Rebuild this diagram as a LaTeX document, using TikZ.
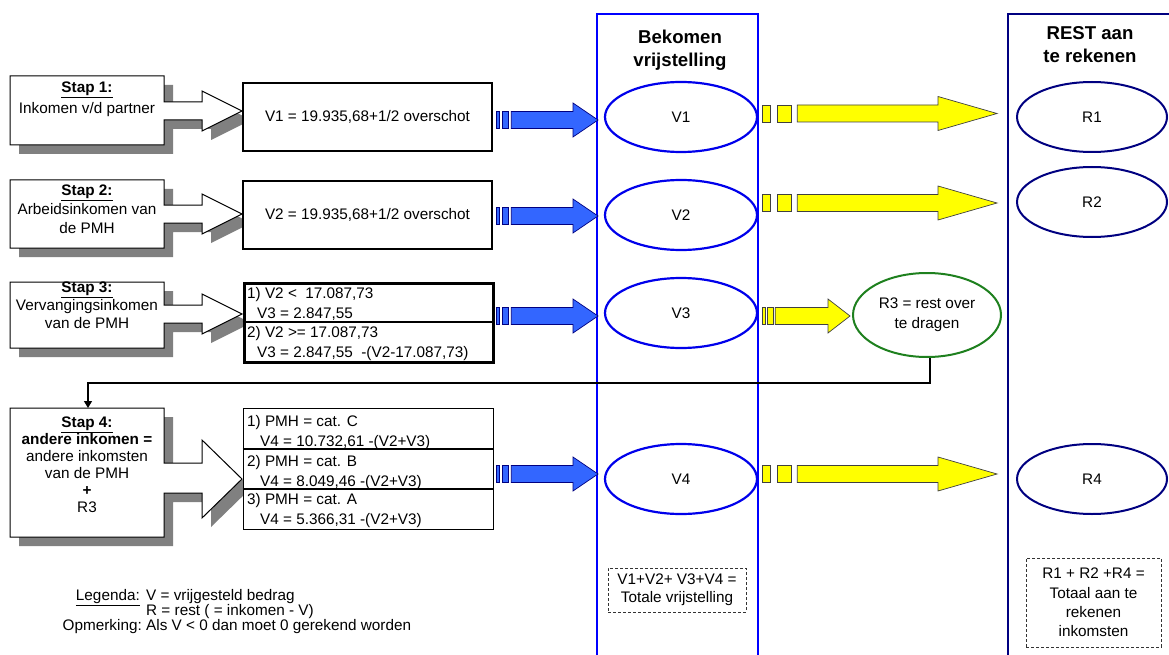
\documentclass[tikz,border=0pt]{standalone}
\usepackage{fontspec}
\setmainfont{Liberation Sans}
\usetikzlibrary{shapes.geometric,arrows.meta}

\definecolor{vblue}{RGB}{0,0,235}
\definecolor{navy}{RGB}{0,0,128}
\definecolor{arrowblue}{RGB}{51,102,255}
\definecolor{arrowyellow}{RGB}{255,255,0}
\definecolor{shadowgray}{RGB}{128,128,128}
\definecolor{restgreen}{RGB}{30,128,30}

\tikzset{
  txt/.style={font=\fontsize{15.3}{18}\selectfont, inner sep=0pt},
  steptext/.style={txt, align=center, anchor=north},
  headtext/.style={font=\fontsize{18.6}{23}\selectfont\bfseries, inner sep=0pt, align=center, anchor=north},
  vbox/.style={txt, draw=black, fill=white, rectangle},
  celltext/.style={txt, anchor=north west, align=left, font=\fontsize{15.3}{19.6}\selectfont},
  vell/.style={txt, ellipse, draw=vblue, line width=2.2pt, minimum width=152pt, minimum height=70pt},
  rell/.style={txt, ellipse, draw=navy, line width=2pt, minimum width=150pt, minimum height=70pt},
  totalbox/.style={txt, draw=black!80, dash pattern=on 3pt off 2pt, line width=0.8pt, align=center},
  bluearrow/.style={fill=arrowblue, draw=navy, line width=0.7pt},
  yellowarrow/.style={fill=arrowyellow, draw=black!75, line width=0.7pt},
  column/.style={line width=1.3pt},
}

% striped block arrow: style, start x, tip x, centre y, head length
\newcommand\stripearrow[5]{%
  \path[#1] ({#2},{#4-8.5}) rectangle ({#2+0.035*(#3-#2)},{#4+8.5});
  \path[#1] ({#2+0.065*(#3-#2)},{#4-8.5}) rectangle ({#2+0.125*(#3-#2)},{#4+8.5});
  \path[#1] ({#2+0.15*(#3-#2)},{#4-8.5}) -- ({#3-#5},{#4-8.5}) -- ({#3-#5},{#4-17})
    -- (#3,#4) -- ({#3-#5},{#4+17}) -- ({#3-#5},{#4+8.5})
    -- ({#2+0.15*(#3-#2)},{#4+8.5}) -- cycle;}

% step box with arrow callout and drop shadow:
% top, bottom, stem top, stem bottom, head top, head bottom, tip y
\newcommand\stapshape[7]{%
  \fill[shadowgray, xshift=9pt, yshift=-9pt] (10,#1) -- (164,#1) -- (164,#3) -- (202,#3)
    -- (202,#5) -- (242,#7) -- (202,#6) -- (202,#4) -- (164,#4) -- (164,#2) -- (10,#2) -- cycle;
  \filldraw[fill=white, draw=black, line width=1pt] (10,#1) -- (164,#1) -- (164,#3) -- (202,#3)
    -- (202,#5) -- (242,#7) -- (202,#6) -- (202,#4) -- (164,#4) -- (164,#2) -- (10,#2) -- cycle;}

\begin{document}
\begin{tikzpicture}[x=1pt,y=-1pt]
\useasboundingbox (0,0) rectangle (1169,655);

% column frames
\draw[column, draw=blue] (597,14) rectangle (758,700);
\draw[column, draw=navy] (1008,14) rectangle (1180,700);
\node[headtext] (hv) at (680,30) {Bekomen\\vrijstelling};
\node[headtext] (hr) at (1090,26.5) {REST aan\\te rekenen};

% step boxes
\stapshape{76}{145}{102}{120}{91}{131}{111}
\stapshape{180}{248}{205}{223}{194}{234}{214}
\stapshape{282}{348}{305}{323}{294}{334}{314}
\stapshape{408}{537}{463}{493}{440}{518}{479}

\node[steptext, font=\fontsize{15.3}{21}\selectfont] (s1) at (87,81.5)
  {\textbf{\underline{Stap 1:}}\\Inkomen v/d partner};
\node[steptext, font=\fontsize{15.3}{19}\selectfont] (s2) at (87,184.5)
  {\textbf{\underline{Stap 2:}}\\Arbeidsinkomen van\\de PMH};
\node[steptext, font=\fontsize{15.3}{18}\selectfont] (s3) at (87,281.5)
  {\textbf{\underline{Stap 3:}}\\Vervangingsinkomen\\van de PMH};
\node[steptext, font=\fontsize{15.3}{17}\selectfont] (s4) at (87,416.5)
  {\textbf{\underline{Stap 4:}}\\\textbf{andere inkomen =}\\andere inkomsten\\van de PMH\\\textbf{+}\\R3};
\coordinate (s4top) at (88,408);

% formula boxes
\node[vbox, line width=2pt, minimum width=249pt, minimum height=68pt] (v1box) at (367.5,117)
  {V1 = 19.935,68+1/2 overschot};
\node[vbox, line width=2pt, minimum width=249pt, minimum height=68pt] (v2box) at (367.5,215)
  {V2 = 19.935,68+1/2 overschot};

\node[vbox, line width=3pt, minimum width=249pt, minimum height=79pt] (v3box) at (368.5,322.5) {};
\draw[line width=2pt] (v3box.west |- 0,322) -- (v3box.east |- 0,322);
\node[celltext] (v3a) at (247,287.5) {1) V2 <\ \ 17.087,73\\\hspace*{10pt}V3 = 2.847,55};
\node[celltext] (v3b) at (247,326.5) {2) V2 >= 17.087,73\\\hspace*{10pt}V3 = 2.847,55\ \ -(V2-17.087,73)};

\node[vbox, line width=1pt, minimum width=250pt, minimum height=121pt] (v4box) at (368,468.5) {};
\draw[line width=2pt] (v4box.west |- 0,449) -- (v4box.east |- 0,449);
\draw[line width=2pt] (v4box.west |- 0,489) -- (v4box.east |- 0,489);
\node[celltext] (v4a) at (247,415.5) {1) PMH = cat. C\\\hspace*{13pt}V4 = 10.732,61 -(V2+V3)};
\node[celltext] (v4b) at (247,455.5) {2) PMH = cat. B\\\hspace*{13pt}V4 = 8.049,46 -(V2+V3)};
\node[celltext] (v4c) at (247,493.5) {3) PMH = cat. A\\\hspace*{13pt}V4 = 5.366,31 -(V2+V3)};

% blue arrows into the exemption column
\stripearrow{bluearrow}{496}{598}{120}{25}
\stripearrow{bluearrow}{496}{598}{216}{25}
\stripearrow{bluearrow}{496}{598}{316}{25}
\stripearrow{bluearrow}{496}{598}{474}{25}

% exemption ellipses
\node[vell] (e1) at (681,117) {V1};
\node[vell] (e2) at (681,215) {V2};
\node[vell] (e3) at (681,313) {V3};
\node[vell] (e4) at (681,479) {V4};

% yellow arrows towards the rest column
\stripearrow{yellowarrow}{762}{997}{113.5}{59}
\stripearrow{yellowarrow}{762}{997}{203}{59}
\stripearrow{yellowarrow}{762}{850}{316}{22}
\stripearrow{yellowarrow}{762}{997}{474}{59}

% rest ellipses
\node[rell] (r1) at (1092,117) {R1};
\node[rell] (r2) at (1092,202) {R2};
\node[rell] (r4) at (1092,479) {R4};
\node[txt, ellipse, draw=restgreen, line width=2pt, minimum width=148pt, minimum height=84pt,
  align=center, font=\fontsize{15.3}{20}\selectfont] (r3) at (927,315) {R3 = rest over\\te dragen};

% carry-over of R3 to step 4
\draw[line width=1.2pt, -{Triangle[length=7pt,width=8pt]}]
  ([xshift=3pt]r3.south) -- ++(0,25) -| (s4top);

% totals
\node[totalbox, minimum width=138pt, minimum height=44pt, font=\fontsize{15.3}{18}\selectfont]
  (tv) at (677,590) {V1+V2+ V3+V4 =\\Totale vrijstelling};
\node[totalbox, minimum width=135pt, minimum height=89pt, font=\fontsize{15.3}{19.3}\selectfont]
  (tr) at (1093.5,602.5) {R1 + R2 +R4 =\\Totaal aan te\\rekenen\\inkomsten};

% legend
\node[txt, anchor=base east] (lg) at (140,600.5) {\underline{Legenda:}};
\node[txt, anchor=base west] (lg1) at (146,600.5) {V = vrijgesteld bedrag};
\node[txt, anchor=base west] (lg2) at (146,615.5) {R = rest ( = inkomen - V)};
\node[txt, anchor=base east] (op) at (142,630.5) {Opmerking:};
\node[txt, anchor=base west] (op1) at (146,630.5) {Als V < 0 dan moet 0 gerekend worden};
\end{tikzpicture}
\end{document}
